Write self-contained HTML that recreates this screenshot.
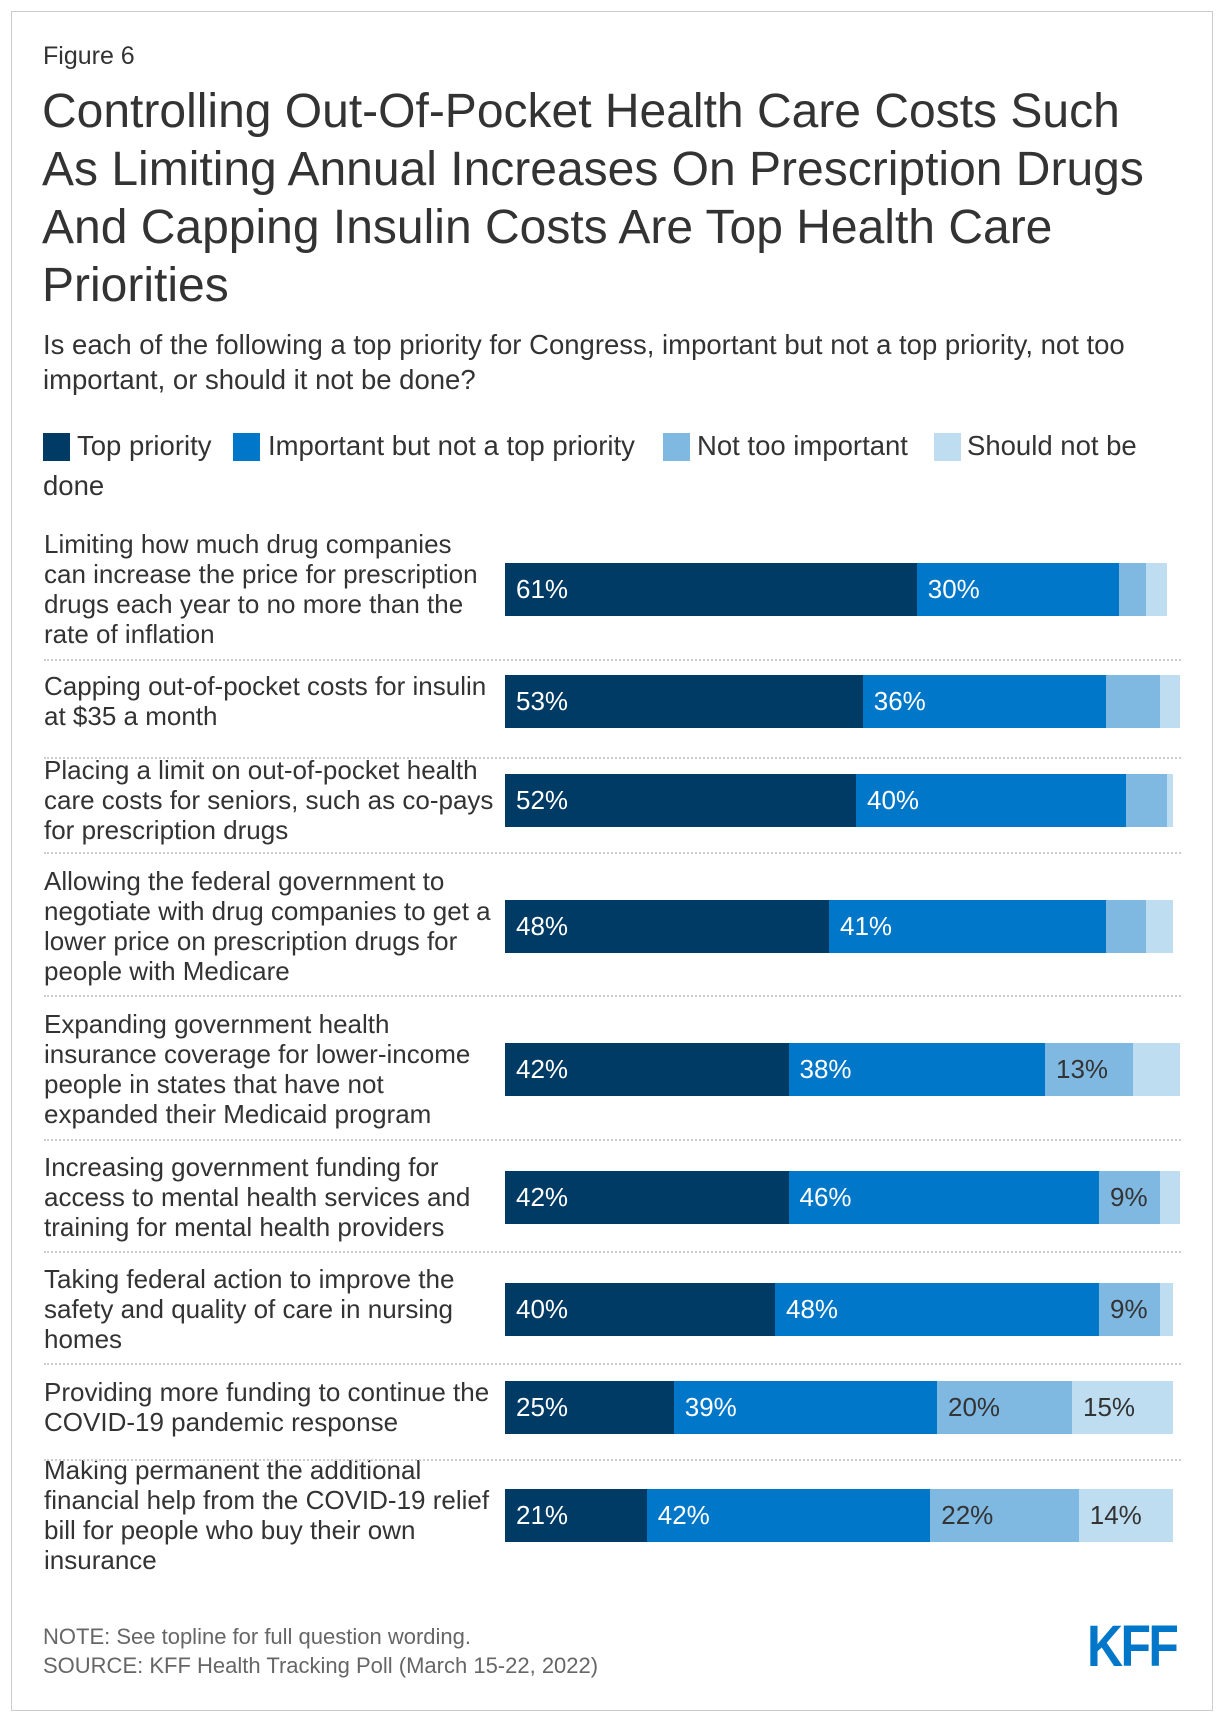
<!DOCTYPE html>
<html><head><meta charset="utf-8"><style>
body{margin:0;width:1220px;height:1716px;background:#fff;font-family:"Liberation Sans",sans-serif;color:#333;position:relative;overflow:hidden}
.a{position:absolute;white-space:nowrap}
#frame{position:absolute;left:11px;top:11px;width:1202px;height:1700px;border:1px solid #ccc;box-sizing:border-box}
.lbl{position:absolute;left:44px;font-size:26px;line-height:30px;color:#333;white-space:nowrap;transform:translateY(-50%)}
.sq{position:absolute;width:27px;height:28px;top:433px}
.lt{position:absolute;font-size:27.5px;top:431px;line-height:30px}
</style></head><body>
<div id="frame"></div>
<div class="a" style="left:43px;top:42px;font-size:25px">Figure 6</div>
<div class="a" style="left:42px;top:83px;font-size:48px;line-height:58px;white-space:nowrap;color:#333">Controlling Out-Of-Pocket Health Care Costs Such<br>As Limiting Annual Increases On Prescription Drugs<br>And Capping Insulin Costs Are Top Health Care<br>Priorities</div>
<div class="a" style="left:43px;top:327px;font-size:27.5px;line-height:35px;color:#333">Is each of the following a top priority for Congress, important but not a top priority, not too<br>important, or should it not be done?</div>
<div>
<div class="sq" style="left:43px;background:#003b66"></div>
<div class="lt" style="left:77px">Top priority</div>
<div class="sq" style="left:233px;background:#0077c8"></div>
<div class="lt" style="left:268px">Important but not a top priority</div>
<div class="sq" style="left:663px;background:#7fb8e1"></div>
<div class="lt" style="left:697px">Not too important</div>
<div class="sq" style="left:934px;background:#bfddf0"></div>
<div class="lt" style="left:967px">Should not be</div>
<div class="lt" style="left:43px;top:471px">done</div>
</div>
<div id="chart"></div>
<div class="a" style="left:43px;top:1624px;font-size:22px;color:#666">NOTE: See topline for full question wording.</div>
<div class="a" style="left:43px;top:1653px;font-size:22px;color:#666">SOURCE: KFF Health Tracking Poll (March 15-22, 2022)</div>
<div class="a" style="left:1087px;top:1618px;font-size:58px;line-height:58px;font-weight:bold;color:#0077c8;letter-spacing:-3px;transform:scaleX(0.86);transform-origin:left">KFF</div>
<script>
const categories=[
"Limiting how much drug companies<br>can increase the price for prescription<br>drugs each year to no more than the<br>rate of inflation",
"Capping out-of-pocket costs for insulin<br>at $35 a month",
"Placing a limit on out-of-pocket health<br>care costs for seniors, such as co-pays<br>for prescription drugs",
"Allowing the federal government to<br>negotiate with drug companies to get a<br>lower price on prescription drugs for<br>people with Medicare",
"Expanding government health<br>insurance coverage for lower-income<br>people in states that have not<br>expanded their Medicaid program",
"Increasing government funding for<br>access to mental health services and<br>training for mental health providers",
"Taking federal action to improve the<br>safety and quality of care in nursing<br>homes",
"Providing more funding to continue the<br>COVID-19 pandemic response",
"Making permanent the additional<br>financial help from the COVID-19 relief<br>bill for people who buy their own<br>insurance"];
const topPriority=[61,53,52,48,42,42,40,25,21];
const important=[30,36,40,41,38,46,48,39,42];
const notTooImportant=[4,8,6,6,13,9,9,20,22];
const shouldNotBeDone=[3,3,1,4,7,3,2,15,14];
const labelThreshold=9;
const series=[topPriority,important,notTooImportant,shouldNotBeDone];
const colors=["#003b66","#0077c8","#7fb8e1","#bfddf0"];
const textColors=["#fff","#fff","#333","#333"];
const rowCenters=[589,701,800,926,1069,1197,1309,1407,1515];
const seps=[659,757,852,995,1139,1251,1363,1459];
const x0=505,scale=6.75,barH=53;
const xPos=v=>x0+v*scale;
const chart=document.getElementById('chart');
categories.forEach((c,i)=>{
  const l=document.createElement('div');l.className='lbl';l.style.top=rowCenters[i]+'px';l.innerHTML=c;
  
  
  chart.appendChild(l);
  let cum=0;
  series.forEach((s,k)=>{
    const v=s[i];const b=document.createElement('div');
    b.style.cssText=`position:absolute;left:${xPos(cum)}px;width:${v*scale}px;top:${rowCenters[i]-barH/2}px;height:${barH}px;background:${colors[k]}`;
    
    
    chart.appendChild(b);
    if(v>=labelThreshold){
      const t=document.createElement('div');
      t.style.cssText=`position:absolute;left:${xPos(cum)+11}px;top:${rowCenters[i]-15}px;font-size:26px;line-height:30px;color:${textColors[k]}`;
      t.textContent=v+'%';
      
      
      chart.appendChild(t);
    }
    cum+=v;
  });
});
seps.forEach(y=>{
  const d=document.createElement('div');
  d.style.cssText=`position:absolute;left:44px;width:1137px;top:${y}px;border-top:2px dotted #ccc`;
  
  
  chart.appendChild(d);
});
</script>
</body></html>
